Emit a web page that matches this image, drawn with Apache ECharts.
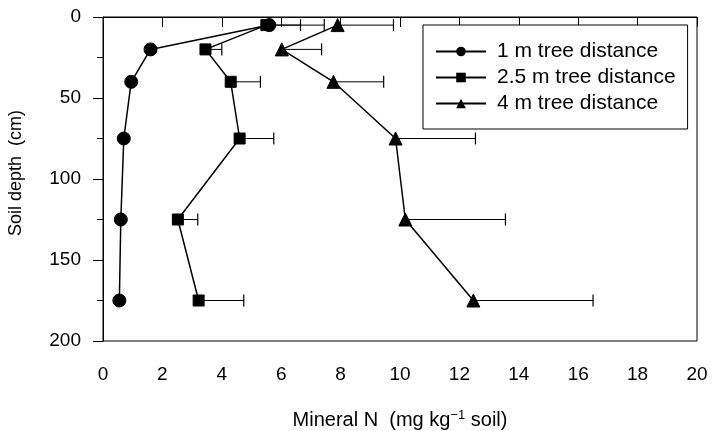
<!DOCTYPE html>
<html>
<head>
<meta charset="utf-8">
<script src="https://cdn.jsdelivr.net/npm/echarts@6/dist/echarts.min.js"></script>
<style>html,body{margin:0;padding:0;background:#fff}#c{width:712px;height:431px}</style>
</head>
<body>
<div id="c"></div>
<script>
var depths = [5, 20, 40, 75, 125, 175];
var seriesNames = ['1 m tree distance', '2.5 m tree distance', '4 m tree distance'];
var n1 = [5.6, 1.6, 0.95, 0.7, 0.6, 0.55];
var n1Err = [1.05, 0, 0, 0, 0, 0];
var n2 = [5.5, 3.45, 4.3, 4.6, 2.52, 3.22];
var n2Err = [1.95, 0.55, 1.0, 1.15, 0.67, 1.52];
var n3 = [7.9, 6.02, 7.76, 9.85, 10.18, 12.47];
var n3Err = [1.88, 1.34, 1.69, 2.69, 3.37, 4.03];
var xTicks = [0, 2, 4, 6, 8, 10, 12, 14, 16, 18, 20];
var yTicks = [0, 50, 100, 150, 200];

var FONT = '"Liberation Sans", Arial, sans-serif';
var chart = echarts.init(document.getElementById('c'), null, {renderer: 'canvas'});

function pts(vals) { return vals.map(function (v, i) { return [v, depths[i]]; }); }
function errPts(vals, errs) { return vals.map(function (v, i) { return [v, depths[i], v + errs[i]]; }); }

function errSeries(vals, errs) {
  return {
    type: 'custom',
    silent: true,
    z: 1,
    data: errPts(vals, errs),
    renderItem: function (params, api) {
      var a = api.coord([api.value(0), api.value(1)]);
      var b = api.coord([api.value(2), api.value(1)]);
      if (b[0] - a[0] < 1) return null;
      return {
        type: 'group',
        children: [
          {type: 'line', shape: {x1: a[0], y1: a[1], x2: b[0], y2: a[1]}, style: {stroke: '#000', lineWidth: 1}},
          {type: 'line', shape: {x1: b[0], y1: a[1] - 6, x2: b[0], y2: a[1] + 6}, style: {stroke: '#000', lineWidth: 1.2}}
        ]
      };
    }
  };
}

function lineSeries(name, vals, symbol, size) {
  return {
    name: name,
    type: 'line',
    data: pts(vals),
    symbol: symbol,
    symbolSize: size,
    z: 3,
    lineStyle: {color: '#000', width: 1.5},
    itemStyle: {color: '#000', borderColor: '#000'},
    animation: false
  };
}

chart.setOption({
  animation: false,
  grid: {left: 103, right: 15, top: 17, bottom: 90, show: true, borderColor: '#000', borderWidth: 1, containLabel: false, outerBoundsMode: 'none'},
  legend: {
    left: 423, top: 25,
    orient: 'vertical',
    padding: [16, 12, 15, 12],
    itemWidth: 50, itemHeight: 12, itemGap: 5,
    borderColor: '#000', borderWidth: 1,
    backgroundColor: '#fff',
    data: seriesNames,
    textStyle: {color: '#000', fontSize: 21, fontFamily: FONT, padding: [0, 0, 0, 6]}
  },
  xAxis: {
    type: 'value', min: xTicks[0], max: xTicks[xTicks.length - 1], interval: 2,
    axisLine: {lineStyle: {color: '#000', width: 1}},
    axisTick: {show: true, inside: false, length: 10, lineStyle: {color: '#000'}},
    splitLine: {show: false},
    axisLabel: {color: '#000', fontSize: 19, fontFamily: FONT, margin: 24},
    name: '{a|Mineral N  (mg kg}{s|−1}{a| soil)}',
    nameLocation: 'middle', nameGap: 68,
    nameTextStyle: {
      rich: {
        a: {fontSize: 20, fontFamily: FONT, color: '#000'},
        s: {fontSize: 13, fontFamily: FONT, color: '#000', verticalAlign: 'top', padding: [0, 0, 10, 0]}
      }
    }
  },
  yAxis: {
    type: 'value', inverse: true, min: yTicks[0], max: yTicks[yTicks.length - 1], interval: 50,
    axisLine: {lineStyle: {color: '#000', width: 1}},
    axisTick: {show: true, inside: false, length: 10, lineStyle: {color: '#000'}},
    minorTick: {show: true, splitNumber: 2, length: 6, lineStyle: {color: '#000'}},
    splitLine: {show: false},
    axisLabel: {color: '#000', fontSize: 19, fontFamily: FONT, margin: 22},
    name: 'Soil depth  (cm)',
    nameLocation: 'middle', nameGap: 78,
    nameTextStyle: {color: '#000', fontSize: 18, fontFamily: FONT, padding: [0, 0, 0, 12]}
  },
  series: [
    errSeries(n1, n1Err),
    errSeries(n2, n2Err),
    errSeries(n3, n3Err),
    lineSeries(seriesNames[0], n1, 'circle', 13),
    lineSeries(seriesNames[1], n2, 'rect', 11),
    lineSeries(seriesNames[2], n3, 'triangle', 13)
  ]
});
</script>
</body>
</html>
